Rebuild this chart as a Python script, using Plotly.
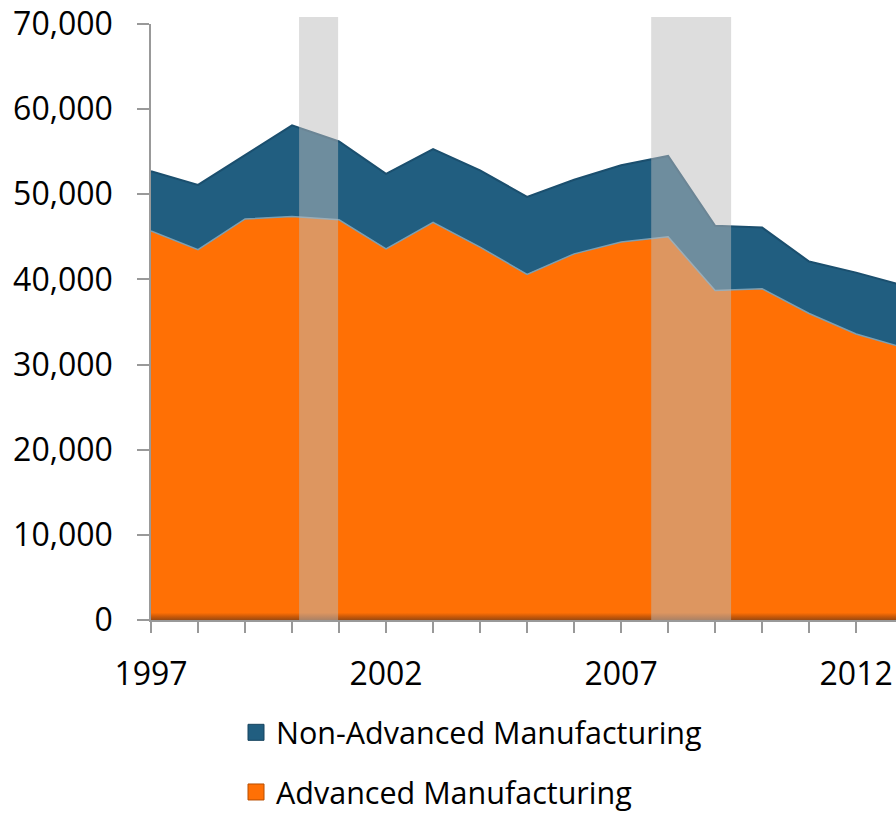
import plotly.graph_objects as go

years = list(range(1997, 2014))
advanced = [45700, 43500, 47100, 47400, 47000, 43600, 46700, 43800, 40600,
            43000, 44400, 45000, 38700, 38900, 36000, 33600, 32000]
non_advanced = [7000, 7600, 7500, 10700, 9200, 8800, 8600, 9000, 9100,
                8700, 9000, 9500, 7600, 7200, 6100, 7200, 7300]
recession_start = [2000.15, 2007.64]
recession_end = [2000.98, 2009.34]
x_ticks_major = [1997, 2002, 2007, 2012]

ORANGE = "#FF7005"
BLUE = "#215E80"
FONT = "Open Sans"

fig = go.Figure()
fig.add_trace(go.Scatter(
    x=years, y=advanced, name="Advanced Manufacturing", stackgroup="one",
    mode="lines", fillcolor=ORANGE,
    fillgradient=dict(type="vertical", start=0, stop=max(advanced),
                      colorscale=[[0, "#9A4A12"], [0.008, "#C85808"],
                                  [0.018, ORANGE], [1, ORANGE]]),
    line=dict(color="#7C9FB2", width=1.5),
    showlegend=False, hoverinfo="x+y"))
fig.add_trace(go.Scatter(
    x=years, y=non_advanced, name="Non-Advanced Manufacturing", stackgroup="one",
    mode="lines", fillcolor=BLUE, line=dict(color="#1B4F6E", width=2),
    showlegend=False, hoverinfo="x+y"))

# legend entries with square swatches
fig.add_trace(go.Scatter(
    x=[None], y=[None], mode="markers", name="Non-Advanced Manufacturing",
    marker=dict(symbol="square", size=20, color=BLUE, line=dict(color="#17435E", width=1)),
    legendgroup="a"))
fig.add_trace(go.Scatter(
    x=[None], y=[None], mode="markers", name="Advanced Manufacturing",
    marker=dict(symbol="square", size=20, color=ORANGE, line=dict(color="#B84E00", width=1)),
    legendgroup="b"))

shapes = []
for s, e in zip(recession_start, recession_end):
    shapes.append(dict(type="rect", xref="x", yref="paper", x0=s, x1=e,
                       y0=0, y1=(620 - 17) / 596, layer="above",
                       fillcolor="rgba(187,187,187,0.5)", line=dict(width=0)))

fig.update_layout(
    width=896, height=814,
    margin=dict(l=151, r=0, t=24, b=194, autoexpand=False),
    paper_bgcolor="white", plot_bgcolor="white",
    font=dict(family=FONT, size=32, color="black"),
    shapes=shapes,
    showlegend=True,
    legend=dict(orientation="v", x=(236 - 151) / 745, y=(620 - 706) / 596,
                xanchor="left", yanchor="top", traceorder="grouped",
                tracegroupgap=17, font=dict(family=FONT, size=30.5, color="black"),
                bgcolor="rgba(0,0,0,0)"),
    xaxis=dict(range=[1997, 1997 + 745 / 47.01], tick0=1997, dtick=5,
               tickvals=x_ticks_major,
               ticks="outside", ticklen=11, tickcolor="#999999", tickwidth=1.5,
               minor=dict(dtick=1, tick0=1997, ticks="outside", ticklen=11,
                          tickcolor="#999999", tickwidth=1.5),
               showline=True, linecolor="#999999", linewidth=1.5,
               showgrid=False, zeroline=False, ticklabelstandoff=14,
               tickfont=dict(family=FONT, size=32)),
    yaxis=dict(range=[0, 70000], dtick=10000, tickformat=",d",
               ticks="outside", ticklen=12, tickcolor="#999999", tickwidth=1.5,
               showline=True, linecolor="#999999", linewidth=1.5,
               showgrid=False, zeroline=False, ticklabelstandoff=18,
               tickfont=dict(family=FONT, size=32)),
)

fig.write_html(
    "out.html",
    config={"displayModeBar": False},
    post_script="document.body.style.margin='0';"
                "document.documentElement.style.overflow='hidden';"
                "document.body.style.overflow='hidden';",
)
